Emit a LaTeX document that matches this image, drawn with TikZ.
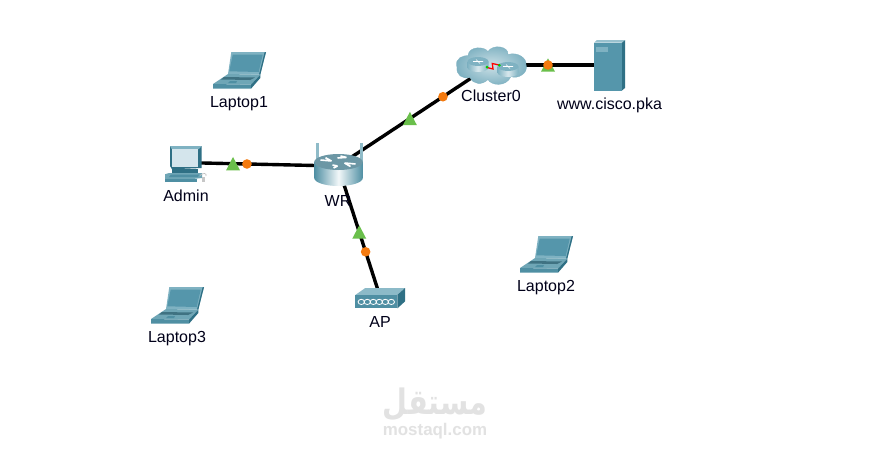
\documentclass[tikz,border=0pt]{standalone}
\usepackage{fontspec}
\setmainfont{Liberation Sans}
\newfontfamily\arabicfont[Script=Arabic]{DejaVu Sans}
\TeXXeTstate=1
\usetikzlibrary{shadings}
\definecolor{lidc}{HTML}{7FB2C2}
\definecolor{scrc}{HTML}{5596AB}
\definecolor{basec}{HTML}{6FA6B6}
\definecolor{frontc}{HTML}{4F8FA3}
\definecolor{sidec}{HTML}{2F7085}
\definecolor{markg}{HTML}{6ABF4B}
\definecolor{marko}{HTML}{F47A0F}
\definecolor{wmark}{HTML}{E2E2E2}
\definecolor{pcscr}{HTML}{D4E5EC}
\definecolor{antc}{HTML}{8FBBC8}
\tikzset{
  anchorpt/.style={inner sep=0pt,minimum size=0pt,outer sep=0pt},
  lbl/.style={inner sep=0pt,font=\fontsize{16}{18}\selectfont,text=black!90!blue},
  link/.style={draw=black,line width=3.4pt},
  tri/.pic={\fill[markg] (-7,6.7) -- (7,6.7) -- (0,-6.7) -- cycle;},
  dot/.pic={\fill[marko] (0,0) circle (4.8);},
  laptop/.pic={
    \fill[lidc] (18.3,0) -- (53,0) -- (47.3,22.7) -- (15,22) -- cycle;
    \fill[scrc] (19.7,2.7) -- (49.7,2.7) -- (45.7,20) -- (16.3,19.3) -- cycle;
    \fill[sidec] (51.5,0.5) -- (53,0) -- (47.3,22.7) -- (46,22.7) -- cycle;
    \fill[basec] (15,22) -- (47.3,22.7) -- (38,32.7) -- (0,32) -- cycle;
    \fill[frontc!80!black] (11,25) -- (42,25.5) -- (37,28) -- (8,27.5) -- cycle;
    \fill[frontc] (17,29) -- (24,29) -- (23,31) -- (15,31) -- cycle;
    \fill[frontc] (0,32) -- (38,32.7) -- (38,36.7) -- (0,36.7) -- cycle;
    \fill[sidec] (38,32.7) -- (47.3,22.7) -- (47.3,26) -- (38,36.7) -- cycle;
  },
  routericon/.pic={
    \draw[antc,line width=2.2pt] (-21,-23) -- (-21,-4) (23,-23) -- (23,-4);
    \shade[left color=frontc,right color=frontc,middle color=white!90!lidc]
      (-24.3,-4) -- (-24.3,12) arc[start angle=180,end angle=0,x radius=24.3,y radius=8]
      -- (24.3,-4) -- cycle;
    \fill[lidc!85!black] (0,-4) ellipse[x radius=24.3,y radius=8];
    \draw[white,line width=1.6pt]
      (-18,-6) -- (-7,-5) (-13,-8.3) -- (-7,-5)
      (17,-2) -- (6,-3) (12,0.5) -- (6,-3)
      (2,-10) -- (8,-8.6) (-1,-8) -- (8,-8.6)
      (-5,2) -- (-1,0) (-6,-1) -- (-1,0);
  },
  pcicon/.pic={
    \fill[sidec] (0,0) -- (31.7,0) -- (31.7,22) -- (2,23.3) -- (0,20) -- cycle;
    \fill[lidc] (0,0) -- (31.7,0) -- (29,3) -- (1.7,3) -- cycle;
    \fill[pcscr] (1.7,3) rectangle (28,20.7);
    \fill[sidec] (2,23.3) rectangle (28,27.5);
    \fill[basec] (-5,28.3) -- (-1,27) -- (32,27) -- (32,32) -- (-5,36) -- cycle;
    \fill[frontc] (-5,32.5) rectangle (27,36);
    \fill[frontc] (1,28.5) -- (29,28.5) -- (28,31) -- (-1,31) -- cycle;
    \draw[black!25,line width=.7pt] (30,29.5) .. controls (33,26.5) and (37,27) .. (36,30);
    \fill[black!22] (31.5,31) rectangle (35,35.5);
  },
  servericon/.pic={
    \fill[sidec] (27.7,2.7) -- (31,0) -- (31,48) -- (27.7,50.7) -- cycle;
    \fill[lidc!80!white] (0,2.7) -- (3,0) -- (31,0) -- (27.7,2.7) -- cycle;
    \fill[scrc] (0,2.7) rectangle (27.7,50.7);
    \fill[lidc] (2,7) rectangle (13.7,11.7);
  },
  apicon/.pic={
    \fill[lidc!90!white] (0,7) -- (10,0) -- (49.7,0) -- (42,7) -- cycle;
    \fill[sidec] (42,7) -- (49.7,0) -- (49.7,13.4) -- (42,20.4) -- cycle;
    \fill[frontc] (0,7) rectangle (42,20.4);
    \foreach \i in {0,...,5}
      \draw[white,line width=.8pt] (6+\i*6,13.9) ellipse[x radius=3.2,y radius=2.6];
  },
  clustericon/.pic={
    \shade[inner color=white!60!lidc,outer color=lidc!85!scrc,draw=lidc,line width=.3pt]
      (-34,2) .. controls (-37,-8) and (-27,-10) .. (-23,-10)
      .. controls (-22,-20) and (-6,-19) .. (-3,-14)
      .. controls (2,-22) and (18,-19) .. (17,-11)
      .. controls (27,-14) and (36,-7) .. (35,-1)
      .. controls (38,8) and (26,14) .. (20,11)
      .. controls (15,22) and (0,20) .. (-3,14)
      .. controls (-9,20) and (-18,19) .. (-21,12)
      .. controls (-29,14) and (-35,9) .. (-34,2) -- cycle;
    \foreach \cx/\cy in {-13/-1,17/4}{
      \shade[left color=lidc,right color=lidc,middle color=white!70!lidc]
        (\cx-10.5,\cy-3) -- (\cx-10.5,\cy+3) arc[start angle=180,end angle=0,x radius=10.5,y radius=4.5]
        -- (\cx+10.5,\cy-3) -- cycle;
      \fill[lidc] (\cx,\cy-3) ellipse[x radius=10.5,y radius=4.5];
      \draw[white,line width=.6pt] (\cx-5,\cy-3) -- (\cx+5,\cy-3) (\cx-2,\cy-5) -- (\cx+2,\cy-1);
    }
    \draw[red,line width=1.3pt] (-4,2) -- (2,3.5) -- (1.3,-2) -- (8,-.5);
    \fill[green!80!black] (-4,1.7) circle (1.5) (8.3,-.3) circle (1.5);
  },
}
\begin{document}
\begin{tikzpicture}[x=1pt,y=-1pt]
\useasboundingbox (0,0) rectangle (870,448);
\fill[white] (0,0) rectangle (870,448);
% anchors
\node[anchorpt] (admin) at (185,162.6) {};
\node[anchorpt] (wr) at (338,166) {};
\node[anchorpt] (cluster) at (491,65) {};
\node[anchorpt] (server) at (609,65) {};
\node[anchorpt] (ap) at (380.5,298) {};
% connectors
\draw[link] (admin) -- (wr);
\draw[link] (wr) -- (cluster);
\draw[link] (cluster) -- (server);
\draw[link] (wr) -- (ap);
% icons
\pic at (213,52) {laptop};
\pic at (520,236) {laptop};
\pic at (151,287) {laptop};
\pic at (170,146) {pcicon};
\pic at (338.5,166) {routericon};
\pic at (491,65.5) {clustericon};
\pic at (594,40) {servericon};
\pic at (355.3,288) {apicon};
% link markers
\path (admin) -- pic[pos=.314] {tri} pic[pos=.405] {dot} (wr);
\path (wr) -- pic[pos=.47] {tri} pic[pos=.686] {dot} (cluster);
\path (wr) -- pic[pos=.50] {tri} pic[pos=.65] {dot} (ap);
\path (cluster) -- pic[pos=.483] {tri} pic[pos=.483] {dot} (server);
% labels
\node[lbl] (l1) at (239,103.5) {Laptop1};
\node[lbl] (l2) at (546,287.5) {Laptop2};
\node[lbl] (l3) at (177,338.5) {Laptop3};
\node[lbl] (ladmin) at (186,195.5) {Admin};
\node[lbl] (lwr) at (338,200.5) {WR};
\node[lbl] (lcl) at (491,95.5) {Cluster0};
\node[lbl] (lsrv) at (609.5,105) {www.cisco.pka};
\node[lbl] (lap) at (380,322) {AP};
% watermark
\node[inner sep=0pt,text=wmark,xscale=.82,transform shape,font=\fontsize{35}{36}\bfseries\arabicfont] (wm1) at (435,404.5) {\beginR مستقل\endR};
\node[inner sep=0pt,text=wmark,font=\fontsize{16.9}{18}\bfseries] (wm2) at (435,431) {mostaql.com};
\end{tikzpicture}
\end{document}
